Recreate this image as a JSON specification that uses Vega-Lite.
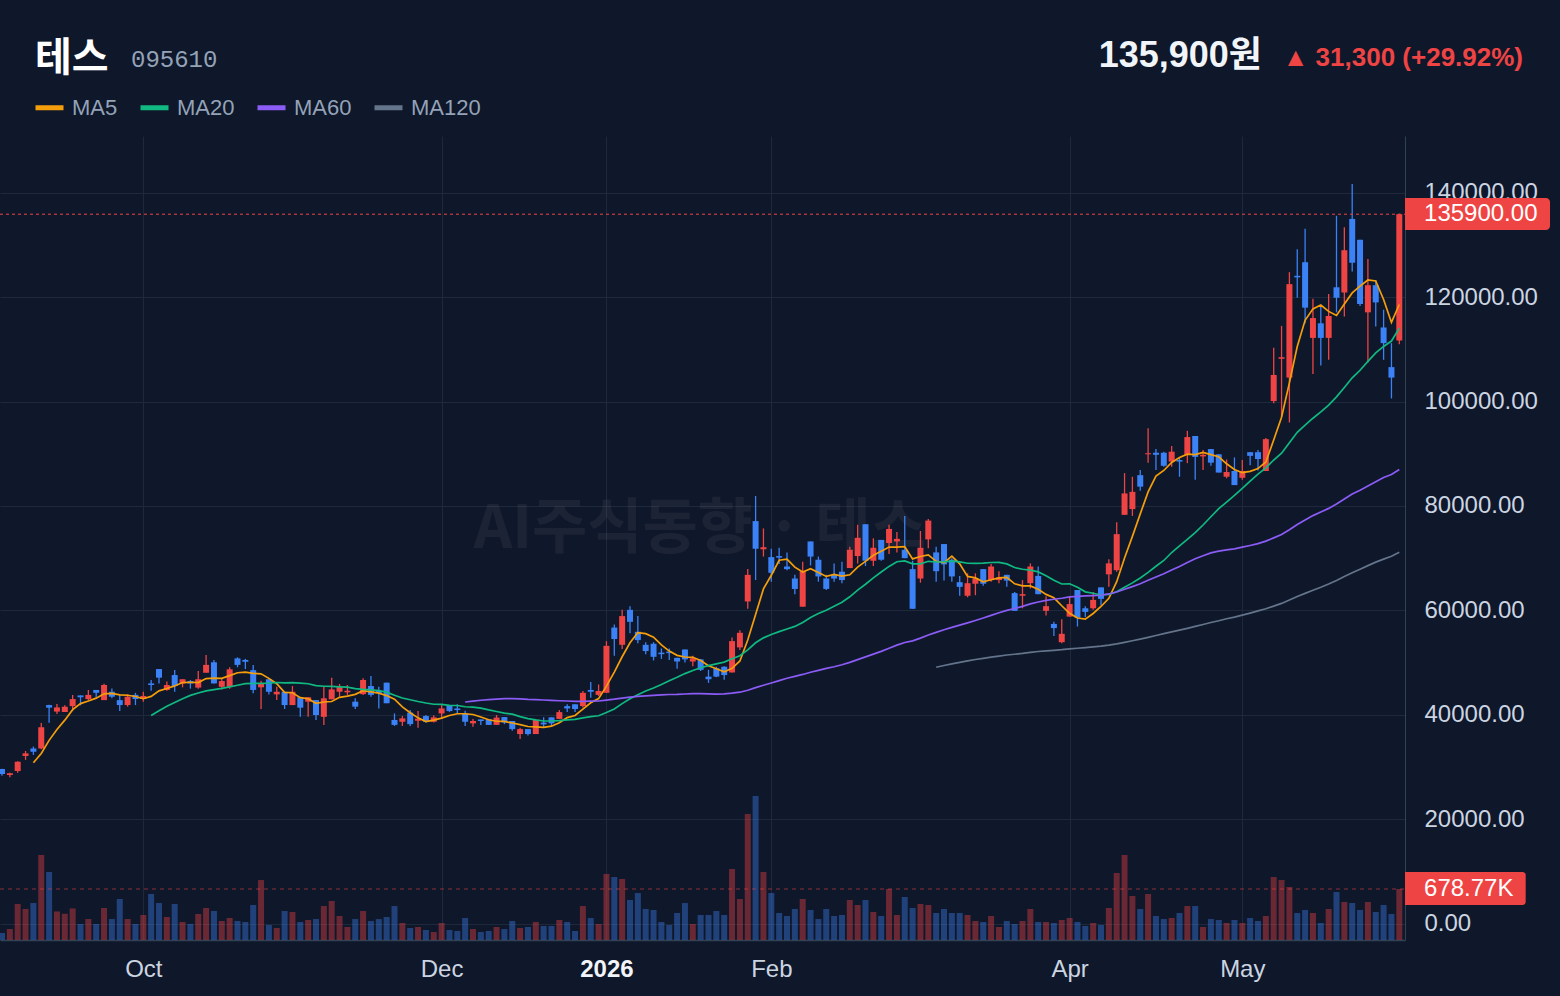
{
"$schema": "https://vega.github.io/schema/vega-lite/v6.json",
"width": 1405,
"height": 804,
"autosize": {"type": "none"},
"padding": {"left": 0, "top": 136, "right": 155, "bottom": 56},
"background": "#0f172a",
"config": {
  "view": {"stroke": null},
  "font": "Liberation Sans",
  "axis": {"gridColor": "#1e293b", "gridWidth": 1, "domainColor": "#334155", "domainWidth": 1, "ticks": false, "labelColor": "#cbd5e1", "labelFont": "Liberation Sans", "labelFontSize": 24}
},
"datasets": {"bars": [
{"i":0,"o":29600,"h":29650,"l":28300,"c":28650,"v":93000},
{"i":1,"o":28450,"h":28900,"l":28000,"c":28800,"v":146000},
{"i":2,"o":29200,"h":31100,"l":28900,"c":31000,"v":479000},
{"i":3,"o":32100,"h":33050,"l":31350,"c":32600,"v":413000},
{"i":4,"o":33550,"h":33900,"l":32300,"c":32900,"v":492000},
{"i":5,"o":33550,"h":38400,"l":33400,"c":37600,"v":1131000},
{"i":6,"o":41850,"h":41900,"l":38450,"c":41350,"v":905000},
{"i":7,"o":40600,"h":42050,"l":40150,"c":41400,"v":380000},
{"i":8,"o":40500,"h":41800,"l":40500,"c":41550,"v":350000},
{"i":9,"o":41650,"h":43800,"l":40750,"c":43000,"v":420000},
{"i":10,"o":43700,"h":43700,"l":41800,"c":43350,"v":213000},
{"i":11,"o":43000,"h":44750,"l":42800,"c":43800,"v":279000},
{"i":12,"o":44750,"h":44750,"l":43350,"c":44200,"v":213000},
{"i":13,"o":42800,"h":45950,"l":42800,"c":45700,"v":426000},
{"i":14,"o":44400,"h":45050,"l":43150,"c":43450,"v":279000},
{"i":15,"o":42800,"h":43900,"l":40700,"c":41850,"v":546000},
{"i":16,"o":41850,"h":43950,"l":41550,"c":43450,"v":279000},
{"i":17,"o":43800,"h":44200,"l":41850,"c":43000,"v":213000},
{"i":18,"o":43050,"h":44400,"l":42500,"c":43600,"v":333000},
{"i":19,"o":46000,"h":46650,"l":44600,"c":45700,"v":612000},
{"i":20,"o":48750,"h":48750,"l":46000,"c":47100,"v":492000},
{"i":21,"o":44750,"h":46350,"l":44600,"c":45700,"v":306000},
{"i":22,"o":47600,"h":48550,"l":44400,"c":45500,"v":479000},
{"i":23,"o":46000,"h":46800,"l":45250,"c":46800,"v":240000},
{"i":24,"o":46450,"h":46650,"l":45000,"c":46000,"v":213000},
{"i":25,"o":45200,"h":48400,"l":45000,"c":46800,"v":346000},
{"i":26,"o":48050,"h":51450,"l":48050,"c":49550,"v":426000},
{"i":27,"o":50050,"h":50500,"l":46000,"c":46000,"v":386000},
{"i":28,"o":45350,"h":47000,"l":44850,"c":46450,"v":253000},
{"i":29,"o":45350,"h":49100,"l":45000,"c":48700,"v":293000},
{"i":30,"o":50800,"h":51000,"l":49100,"c":49550,"v":253000},
{"i":31,"o":50500,"h":50700,"l":48750,"c":50150,"v":240000},
{"i":32,"o":48550,"h":49550,"l":44100,"c":44750,"v":466000},
{"i":33,"o":45250,"h":46500,"l":41100,"c":46000,"v":798000},
{"i":34,"o":46800,"h":47000,"l":43900,"c":44400,"v":200000},
{"i":35,"o":43900,"h":45350,"l":42800,"c":44400,"v":160000},
{"i":36,"o":44400,"h":44400,"l":41100,"c":41850,"v":386000},
{"i":37,"o":41850,"h":45500,"l":41850,"c":44400,"v":373000},
{"i":38,"o":43350,"h":43350,"l":39600,"c":41350,"v":240000},
{"i":39,"o":42500,"h":43350,"l":39600,"c":43350,"v":266000},
{"i":40,"o":42800,"h":42800,"l":39000,"c":39950,"v":279000},
{"i":41,"o":39600,"h":45500,"l":38050,"c":43150,"v":452000},
{"i":42,"o":42950,"h":47100,"l":42950,"c":44850,"v":519000},
{"i":43,"o":44400,"h":45900,"l":43450,"c":45350,"v":319000},
{"i":44,"o":44300,"h":45700,"l":43800,"c":44600,"v":173000},
{"i":45,"o":42500,"h":43150,"l":41100,"c":41550,"v":279000},
{"i":46,"o":43950,"h":47000,"l":43800,"c":46650,"v":386000},
{"i":47,"o":45500,"h":47400,"l":43450,"c":43800,"v":253000},
{"i":48,"o":44550,"h":45350,"l":41200,"c":44150,"v":279000},
{"i":49,"o":46150,"h":46150,"l":42200,"c":42200,"v":306000},
{"i":50,"o":39000,"h":40250,"l":37850,"c":38050,"v":452000},
{"i":51,"o":38650,"h":39750,"l":37850,"c":39300,"v":226000},
{"i":52,"o":40400,"h":40900,"l":37850,"c":38200,"v":160000},
{"i":53,"o":38850,"h":40700,"l":37500,"c":39250,"v":173000},
{"i":54,"o":39750,"h":39950,"l":38500,"c":38650,"v":133000},
{"i":55,"o":38650,"h":39900,"l":38500,"c":39500,"v":106000},
{"i":56,"o":40250,"h":42000,"l":39300,"c":41200,"v":226000},
{"i":57,"o":41800,"h":41800,"l":40550,"c":40700,"v":133000},
{"i":58,"o":41200,"h":42000,"l":40250,"c":40900,"v":120000},
{"i":59,"o":40250,"h":40750,"l":37850,"c":38650,"v":293000},
{"i":60,"o":38350,"h":39200,"l":37700,"c":38800,"v":146000},
{"i":61,"o":39100,"h":39100,"l":38050,"c":38800,"v":106000},
{"i":62,"o":39100,"h":39100,"l":38050,"c":38050,"v":120000},
{"i":63,"o":38050,"h":39950,"l":38050,"c":39450,"v":173000},
{"i":64,"o":39550,"h":39550,"l":38200,"c":38500,"v":146000},
{"i":65,"o":38800,"h":38800,"l":36950,"c":37250,"v":253000},
{"i":66,"o":36300,"h":37500,"l":35350,"c":37250,"v":160000},
{"i":67,"o":37250,"h":37250,"l":36000,"c":36300,"v":173000},
{"i":68,"o":36300,"h":39000,"l":36300,"c":39000,"v":240000},
{"i":69,"o":38500,"h":39500,"l":37600,"c":38150,"v":186000},
{"i":70,"o":39500,"h":39500,"l":37850,"c":38350,"v":186000},
{"i":71,"o":39200,"h":40900,"l":39200,"c":40500,"v":266000},
{"i":72,"o":41650,"h":42000,"l":40500,"c":41200,"v":240000},
{"i":73,"o":42000,"h":42000,"l":40500,"c":41100,"v":120000},
{"i":74,"o":41650,"h":44550,"l":41400,"c":44200,"v":452000},
{"i":75,"o":44750,"h":46250,"l":43250,"c":44400,"v":293000},
{"i":76,"o":43800,"h":45800,"l":43600,"c":44550,"v":213000},
{"i":77,"o":44200,"h":54100,"l":44200,"c":53200,"v":878000},
{"i":78,"o":56700,"h":57300,"l":51300,"c":54500,"v":838000},
{"i":79,"o":53400,"h":60100,"l":52600,"c":58900,"v":812000},
{"i":80,"o":60100,"h":60800,"l":55600,"c":57800,"v":532000},
{"i":81,"o":55900,"h":58900,"l":53700,"c":54300,"v":625000},
{"i":82,"o":53400,"h":53900,"l":51600,"c":52200,"v":413000},
{"i":83,"o":53600,"h":53900,"l":50400,"c":51100,"v":399000},
{"i":84,"o":51900,"h":52700,"l":50700,"c":51600,"v":240000},
{"i":85,"o":52100,"h":52700,"l":50500,"c":51800,"v":200000},
{"i":86,"o":50900,"h":50900,"l":48800,"c":50200,"v":359000},
{"i":87,"o":52500,"h":52500,"l":50000,"c":50600,"v":492000},
{"i":88,"o":50200,"h":51300,"l":49300,"c":50800,"v":213000},
{"i":89,"o":50600,"h":50700,"l":48400,"c":48600,"v":333000},
{"i":90,"o":47300,"h":48600,"l":46100,"c":46800,"v":333000},
{"i":91,"o":48900,"h":49200,"l":47200,"c":47300,"v":386000},
{"i":92,"o":49200,"h":49300,"l":46700,"c":47600,"v":333000},
{"i":93,"o":48100,"h":54800,"l":48100,"c":54100,"v":945000},
{"i":94,"o":52900,"h":56200,"l":52400,"c":55700,"v":546000},
{"i":95,"o":61700,"h":67900,"l":60300,"c":66800,"v":1677000},
{"i":96,"o":77100,"h":81900,"l":65800,"c":71800,"v":1916000},
{"i":97,"o":71700,"h":75700,"l":70300,"c":72100,"v":905000},
{"i":98,"o":70200,"h":71800,"l":65500,"c":67200,"v":625000},
{"i":99,"o":70400,"h":72000,"l":68900,"c":70100,"v":359000},
{"i":100,"o":68400,"h":71100,"l":67700,"c":67900,"v":319000},
{"i":101,"o":66100,"h":66800,"l":63100,"c":64100,"v":413000},
{"i":102,"o":60700,"h":69300,"l":60700,"c":67500,"v":546000},
{"i":103,"o":73200,"h":73200,"l":68600,"c":70300,"v":399000},
{"i":104,"o":69700,"h":70300,"l":65500,"c":66500,"v":279000},
{"i":105,"o":66100,"h":66800,"l":63900,"c":64100,"v":413000},
{"i":106,"o":66800,"h":69000,"l":65500,"c":66100,"v":319000},
{"i":107,"o":67400,"h":69300,"l":65200,"c":65800,"v":333000},
{"i":108,"o":68100,"h":72200,"l":68100,"c":71600,"v":532000},
{"i":109,"o":70400,"h":76400,"l":69000,"c":73900,"v":466000},
{"i":110,"o":76500,"h":76500,"l":68500,"c":69500,"v":532000},
{"i":111,"o":69500,"h":73800,"l":68500,"c":72000,"v":373000},
{"i":112,"o":73500,"h":73500,"l":69500,"c":69700,"v":319000},
{"i":113,"o":72900,"h":76400,"l":70800,"c":75600,"v":679000},
{"i":114,"o":73200,"h":75000,"l":71100,"c":73700,"v":333000},
{"i":115,"o":71600,"h":78100,"l":70000,"c":70000,"v":572000},
{"i":116,"o":67900,"h":69500,"l":60300,"c":60300,"v":426000},
{"i":117,"o":66100,"h":75200,"l":65300,"c":72000,"v":479000},
{"i":118,"o":73600,"h":77500,"l":71900,"c":77200,"v":466000},
{"i":119,"o":71100,"h":72200,"l":65500,"c":67500,"v":359000},
{"i":120,"o":72700,"h":72700,"l":65700,"c":68800,"v":413000},
{"i":121,"o":69700,"h":70000,"l":65500,"c":66500,"v":359000},
{"i":122,"o":65400,"h":66600,"l":62800,"c":64500,"v":359000},
{"i":123,"o":62800,"h":67100,"l":62500,"c":65200,"v":333000},
{"i":124,"o":65100,"h":67100,"l":62900,"c":66100,"v":253000},
{"i":125,"o":67900,"h":67900,"l":64700,"c":65100,"v":240000},
{"i":126,"o":65800,"h":68900,"l":65500,"c":68400,"v":319000},
{"i":127,"o":65800,"h":67500,"l":65200,"c":66300,"v":173000},
{"i":128,"o":66800,"h":66800,"l":64500,"c":65700,"v":253000},
{"i":129,"o":63300,"h":63500,"l":59900,"c":59900,"v":213000},
{"i":130,"o":62800,"h":65800,"l":60400,"c":63100,"v":253000},
{"i":131,"o":65200,"h":69000,"l":64200,"c":68400,"v":413000},
{"i":132,"o":66600,"h":68400,"l":63100,"c":63100,"v":240000},
{"i":133,"o":59900,"h":62700,"l":59000,"c":60800,"v":240000},
{"i":134,"o":57400,"h":57800,"l":55100,"c":56600,"v":226000},
{"i":135,"o":53900,"h":58300,"l":53700,"c":55500,"v":266000},
{"i":136,"o":58800,"h":62700,"l":58800,"c":61200,"v":293000},
{"i":137,"o":63900,"h":63900,"l":56900,"c":58600,"v":240000},
{"i":138,"o":60400,"h":60800,"l":58700,"c":59700,"v":186000},
{"i":139,"o":60400,"h":63500,"l":60100,"c":62000,"v":226000},
{"i":140,"o":64400,"h":64400,"l":61000,"c":62200,"v":200000},
{"i":141,"o":66900,"h":69800,"l":64500,"c":69000,"v":426000},
{"i":142,"o":67700,"h":76900,"l":67400,"c":74600,"v":892000},
{"i":143,"o":78300,"h":86300,"l":78300,"c":82400,"v":1131000},
{"i":144,"o":79400,"h":85600,"l":78100,"c":82700,"v":586000},
{"i":145,"o":85900,"h":86900,"l":82900,"c":83700,"v":413000},
{"i":146,"o":89900,"h":94900,"l":88300,"c":90100,"v":612000},
{"i":147,"o":90200,"h":90900,"l":86900,"c":89800,"v":319000},
{"i":148,"o":90200,"h":90400,"l":87500,"c":87700,"v":279000},
{"i":149,"o":88500,"h":91500,"l":87500,"c":90400,"v":293000},
{"i":150,"o":88800,"h":89300,"l":85600,"c":88500,"v":359000},
{"i":151,"o":89800,"h":94400,"l":88200,"c":93200,"v":452000},
{"i":152,"o":93400,"h":93400,"l":85000,"c":89400,"v":452000},
{"i":153,"o":89500,"h":90700,"l":86900,"c":89800,"v":173000},
{"i":154,"o":90900,"h":90900,"l":87700,"c":88300,"v":279000},
{"i":155,"o":89900,"h":89900,"l":86400,"c":86400,"v":266000},
{"i":156,"o":85600,"h":88900,"l":85300,"c":86500,"v":226000},
{"i":157,"o":86700,"h":89300,"l":84000,"c":84000,"v":266000},
{"i":158,"o":85400,"h":88800,"l":85000,"c":86700,"v":226000},
{"i":159,"o":90300,"h":90300,"l":87800,"c":89600,"v":293000},
{"i":160,"o":90300,"h":90700,"l":86800,"c":89000,"v":253000},
{"i":161,"o":86700,"h":93000,"l":86700,"c":92800,"v":319000},
{"i":162,"o":100100,"h":110300,"l":99700,"c":105100,"v":838000},
{"i":163,"o":108200,"h":114500,"l":97100,"c":108500,"v":798000},
{"i":164,"o":104600,"h":124800,"l":96000,"c":122500,"v":705000},
{"i":165,"o":124100,"h":129200,"l":119900,"c":123800,"v":359000},
{"i":166,"o":126700,"h":133100,"l":115000,"c":118000,"v":399000},
{"i":167,"o":112200,"h":119700,"l":105300,"c":116000,"v":359000},
{"i":168,"o":115000,"h":118500,"l":106900,"c":112200,"v":226000},
{"i":169,"o":112200,"h":120600,"l":108000,"c":116400,"v":413000},
{"i":170,"o":121900,"h":135600,"l":117100,"c":119900,"v":639000},
{"i":171,"o":120900,"h":133400,"l":116300,"c":129000,"v":506000},
{"i":172,"o":135000,"h":141700,"l":124900,"c":126600,"v":492000},
{"i":173,"o":131000,"h":131000,"l":118300,"c":118700,"v":399000},
{"i":174,"o":117100,"h":127300,"l":107500,"c":122300,"v":506000},
{"i":175,"o":122300,"h":123300,"l":114400,"c":119000,"v":373000},
{"i":176,"o":114200,"h":117600,"l":108000,"c":111200,"v":466000},
{"i":177,"o":106600,"h":111200,"l":100600,"c":104600,"v":346000},
{"i":178,"o":111700,"h":136000,"l":111000,"c":135900,"v":678770}
]},
"data": {"name": "bars"},
"layer": [
  {"layer": [
    {"mark": {"type": "bar", "width": 6, "opacity": 0.4},
     "encoding": {
       "x": {"field": "i", "type": "quantitative", "title": null,
         "scale": {"domain": [-0.2548, 178.726], "nice": false, "zero": false, "padding": 0},
         "axis": {"values": [18, 56, 77, 98, 136, 158], "grid": true, "labelPadding": 17, "labelOverlap": false, "labelFlush": false, "domainWidth": 1.5,
           "labelExpr": "datum.value == 18 ? 'Oct' : datum.value == 56 ? 'Dec' : datum.value == 77 ? '2026' : datum.value == 98 ? 'Feb' : datum.value == 136 ? 'Apr' : 'May'",
           "labelFontWeight": {"expr": "datum.value == 77 ? 'bold' : 'normal'"},
           "labelColor": {"expr": "datum.value == 77 ? '#f1f5f9' : '#cbd5e1'"}}},
       "y": {"field": "v", "type": "quantitative", "title": null, "axis": null, "scale": {"domain": [0, 10700000], "nice": false, "zero": false}},
       "color": {"condition": {"test": "datum.c >= datum.o", "value": "#ef4444"}, "value": "#3b82f6"}}},
    {"data": {"values": [{}]},
     "mark": {"type": "rule", "color": "#ef4444", "opacity": 0.55, "strokeDash": [4, 4], "strokeWidth": 1},
     "encoding": {
       "x": {"datum": -0.2548, "type": "quantitative", "scale": {"domain": [-0.2548, 178.726], "nice": false, "zero": false, "padding": 0}},
       "x2": {"datum": 178.726},
       "y": {"datum": 678770, "type": "quantitative", "axis": null, "scale": {"domain": [0, 10700000], "nice": false, "zero": false}}}},
    {"data": {"values": [{}]},
     "mark": {"type": "rect", "color": "#ef4444", "cornerRadiusTopRight": 3, "cornerRadiusBottomRight": 3},
     "encoding": {
       "x": {"datum": 178.726, "type": "quantitative", "scale": {"domain": [-0.2548, 178.726], "nice": false, "zero": false, "padding": 0}},
       "x2": {"datum": 194.1},
       "y": {"datum": 905000, "type": "quantitative", "axis": null, "scale": {"domain": [0, 10700000], "nice": false, "zero": false}},
       "y2": {"datum": 465800}}},
    {"data": {"values": [{}]},
     "mark": {"type": "text", "text": "678.77K", "align": "left", "baseline": "middle", "color": "#ffffff", "fontSize": 24, "font": "Liberation Sans"},
     "encoding": {
       "x": {"datum": 181.15, "type": "quantitative", "scale": {"domain": [-0.2548, 178.726], "nice": false, "zero": false, "padding": 0}},
       "y": {"datum": 678770, "type": "quantitative", "axis": null, "scale": {"domain": [0, 10700000], "nice": false, "zero": false}}}}
  ]},
  {"layer": [
    {"data": {"values": [{}]},
     "mark": {"type": "text", "text": "AI주식동향 · 테스", "align": "center", "baseline": "middle", "color": "#ffffff", "opacity": 0.05, "fontSize": 60, "fontWeight": "bold", "font": "Noto Sans CJK KR"},
     "encoding": {
       "x": {"datum": 88.9, "type": "quantitative", "scale": {"domain": [-0.2548, 178.726], "nice": false, "zero": false, "padding": 0}},
       "y": {"datum": 75400, "type": "quantitative", "scale": {"domain": [-3161, 150885], "nice": false, "zero": false}}}},
    {"mark": {"type": "rule", "strokeWidth": 1.3},
     "encoding": {
       "x": {"field": "i", "type": "quantitative", "title": null, "scale": {"domain": [-0.2548, 178.726], "nice": false, "zero": false, "padding": 0}},
       "y": {"field": "l", "type": "quantitative", "title": null,
         "scale": {"domain": [-3161, 150885], "nice": false, "zero": false},
         "axis": {"orient": "right", "values": [0, 20000, 40000, 60000, 80000, 100000, 120000, 140000], "format": ".2f", "grid": true, "labelPadding": 19}},
       "y2": {"field": "h"},
       "color": {"condition": {"test": "datum.c >= datum.o", "value": "#ef4444"}, "value": "#3b82f6"}}},
    {"mark": {"type": "bar", "width": 6},
     "encoding": {
       "x": {"field": "i", "type": "quantitative", "title": null, "scale": {"domain": [-0.2548, 178.726], "nice": false, "zero": false, "padding": 0}},
       "y": {"field": "o", "type": "quantitative", "title": null, "scale": {"domain": [-3161, 150885], "nice": false, "zero": false}},
       "y2": {"field": "c"},
       "color": {"condition": {"test": "datum.c >= datum.o", "value": "#ef4444"}, "value": "#3b82f6"}}},
    {"transform": [
       {"window": [{"op": "mean", "field": "c", "as": "MA5"}], "frame": [-4, 0], "sort": [{"field": "i"}]},
       {"window": [{"op": "mean", "field": "c", "as": "MA20"}], "frame": [-19, 0], "sort": [{"field": "i"}]},
       {"window": [{"op": "mean", "field": "c", "as": "MA60"}], "frame": [-59, 0], "sort": [{"field": "i"}]},
       {"window": [{"op": "mean", "field": "c", "as": "MA120"}], "frame": [-119, 0], "sort": [{"field": "i"}]},
       {"fold": ["MA5", "MA20", "MA60", "MA120"], "as": ["ma", "val"]},
       {"filter": "(datum.ma == 'MA5' && datum.i >= 4) || (datum.ma == 'MA20' && datum.i >= 19) || (datum.ma == 'MA60' && datum.i >= 59) || (datum.ma == 'MA120' && datum.i >= 119)"}
     ],
     "mark": {"type": "line", "strokeWidth": 1.7},
     "encoding": {
       "x": {"field": "i", "type": "quantitative", "title": null, "scale": {"domain": [-0.2548, 178.726], "nice": false, "zero": false, "padding": 0}},
       "y": {"field": "val", "type": "quantitative", "title": null, "scale": {"domain": [-3161, 150885], "nice": false, "zero": false}},
       "color": {"field": "ma", "type": "nominal",
         "scale": {"domain": ["MA5", "MA20", "MA60", "MA120"], "range": ["#f59e0b", "#10b981", "#8b5cf6", "#64748b"]},
         "legend": {"orient": "none", "legendX": 33, "legendY": -45, "direction": "horizontal", "title": null, "symbolType": "stroke", "symbolSize": 784, "symbolStrokeWidth": 5, "labelFontSize": 22, "labelColor": "#94a3b8", "labelFont": "Liberation Sans", "columnPadding": 12, "labelOffset": 6, "padding": 0, "offset": 0}}}},
    {"data": {"values": [{}]},
     "mark": {"type": "rule", "color": "#ef4444", "strokeDash": [3, 3], "strokeWidth": 1},
     "encoding": {
       "x": {"datum": -0.2548, "type": "quantitative", "scale": {"domain": [-0.2548, 178.726], "nice": false, "zero": false, "padding": 0}},
       "x2": {"datum": 178.726},
       "y": {"datum": 135900, "type": "quantitative", "scale": {"domain": [-3161, 150885], "nice": false, "zero": false}}}},
    {"data": {"values": [{}]},
     "mark": {"type": "rect", "color": "#ef4444", "cornerRadiusTopRight": 4, "cornerRadiusBottomRight": 4},
     "encoding": {
       "x": {"datum": 178.726, "type": "quantitative", "scale": {"domain": [-0.2548, 178.726], "nice": false, "zero": false, "padding": 0}},
       "x2": {"datum": 197.2},
       "y": {"datum": 139006, "type": "quantitative", "scale": {"domain": [-3161, 150885], "nice": false, "zero": false}},
       "y2": {"datum": 132875}}},
    {"data": {"values": [{}]},
     "mark": {"type": "text", "text": "135900.00", "align": "left", "baseline": "middle", "color": "#ffffff", "fontSize": 24, "font": "Liberation Sans"},
     "encoding": {
       "x": {"datum": 181.15, "type": "quantitative", "scale": {"domain": [-0.2548, 178.726], "nice": false, "zero": false, "padding": 0}},
       "y": {"datum": 135900, "type": "quantitative", "scale": {"domain": [-3161, 150885], "nice": false, "zero": false}}}},
    {"data": {"values": [{}]},
     "mark": {"type": "text", "text": "테스", "align": "left", "baseline": "alphabetic", "color": "#ffffff", "fontSize": 40, "fontWeight": "bold", "font": "Noto Sans CJK KR"},
     "encoding": {
       "x": {"datum": 4.2, "type": "quantitative", "scale": {"domain": [-0.2548, 178.726], "nice": false, "zero": false, "padding": 0}},
       "y": {"datum": 163350, "type": "quantitative", "scale": {"domain": [-3161, 150885], "nice": false, "zero": false}}}},
    {"data": {"values": [{}]},
     "mark": {"type": "text", "text": "095610", "align": "left", "baseline": "alphabetic", "color": "#94a3b8", "fontSize": 24, "font": "Liberation Mono"},
     "encoding": {
       "x": {"datum": 16.43, "type": "quantitative", "scale": {"domain": [-0.2548, 178.726], "nice": false, "zero": false, "padding": 0}},
       "y": {"datum": 164150, "type": "quantitative", "scale": {"domain": [-3161, 150885], "nice": false, "zero": false}}}},
    {"data": {"values": [{}]},
     "mark": {"type": "text", "text": "135,900원", "align": "right", "baseline": "alphabetic", "color": "#f1f5f9", "fontSize": 36, "fontWeight": "bold", "font": "Liberation Sans, Noto Sans CJK KR"},
     "encoding": {
       "x": {"datum": 160.51, "type": "quantitative", "scale": {"domain": [-0.2548, 178.726], "nice": false, "zero": false, "padding": 0}},
       "y": {"datum": 164100, "type": "quantitative", "scale": {"domain": [-3161, 150885], "nice": false, "zero": false}}}},
    {"data": {"values": [{}]},
     "mark": {"type": "text", "text": "▲ 31,300 (+29.92%)", "align": "right", "baseline": "alphabetic", "color": "#ef4444", "fontSize": 26, "fontWeight": "bold", "font": "Liberation Sans, DejaVu Sans"},
     "encoding": {
       "x": {"datum": 193.76, "type": "quantitative", "scale": {"domain": [-0.2548, 178.726], "nice": false, "zero": false, "padding": 0}},
       "y": {"datum": 164300, "type": "quantitative", "scale": {"domain": [-3161, 150885], "nice": false, "zero": false}}}}
  ]}
],
"resolve": {"scale": {"y": "independent"}}
}
